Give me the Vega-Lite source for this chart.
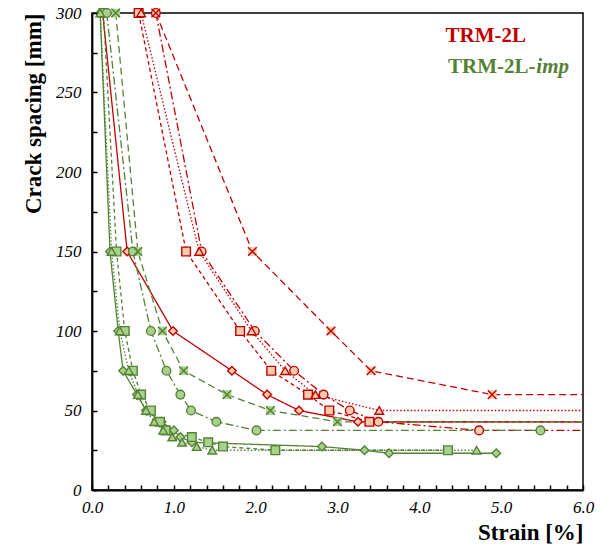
{
  "$schema": "https://vega.github.io/schema/vega-lite/v6.json",
  "width": 491,
  "height": 477,
  "autosize": "none",
  "padding": {"left": 92, "top": 13, "right": 23, "bottom": 61},
  "background": "white",
  "config": {
    "view": {"stroke": "#000", "strokeWidth": 1.5},
    "axis": {
      "domainColor": "#000", "domainWidth": 1.8, "grid": false, "labelFont": "Liberation Serif", "labelFontStyle": "italic", "labelFontSize": 17,
      "labelColor": "#000", "titleFont": "Liberation Serif", "titleFontWeight": "bold", "titleFontSize": 23, "titleColor": "#000",
      "labelOverlap": false, "labelBound": false, "labelFlush": false
    }
  },
  "datasets": {
    "specimens": [
      {"g": "TRM-2L", "s": "diamond", "strain": 0.13, "spacing": 300, "k": "m"},
      {"g": "TRM-2L", "s": "diamond", "strain": 0.43, "spacing": 150, "k": "m"},
      {"g": "TRM-2L", "s": "diamond", "strain": 0.99, "spacing": 100, "k": "m"},
      {"g": "TRM-2L", "s": "diamond", "strain": 1.71, "spacing": 75, "k": "m"},
      {"g": "TRM-2L", "s": "diamond", "strain": 2.14, "spacing": 60, "k": "m"},
      {"g": "TRM-2L", "s": "diamond", "strain": 2.53, "spacing": 50, "k": "m"},
      {"g": "TRM-2L", "s": "diamond", "strain": 3.25, "spacing": 42.9, "k": "m"},
      {"g": "TRM-2L", "s": "diamond", "strain": 6.0, "spacing": 42.9, "k": "ext"},
      {"g": "TRM-2L", "s": "square", "strain": 0.57, "spacing": 300, "k": "m"},
      {"g": "TRM-2L", "s": "square", "strain": 1.15, "spacing": 150, "k": "m"},
      {"g": "TRM-2L", "s": "square", "strain": 1.81, "spacing": 100, "k": "m"},
      {"g": "TRM-2L", "s": "square", "strain": 2.19, "spacing": 75, "k": "m"},
      {"g": "TRM-2L", "s": "square", "strain": 2.64, "spacing": 60, "k": "m"},
      {"g": "TRM-2L", "s": "square", "strain": 2.9, "spacing": 50, "k": "m"},
      {"g": "TRM-2L", "s": "square", "strain": 3.39, "spacing": 42.9, "k": "m"},
      {"g": "TRM-2L", "s": "square", "strain": 6.0, "spacing": 42.9, "k": "ext"},
      {"g": "TRM-2L", "s": "circle", "strain": 0.78, "spacing": 300, "k": "m"},
      {"g": "TRM-2L", "s": "circle", "strain": 1.34, "spacing": 150, "k": "m"},
      {"g": "TRM-2L", "s": "circle", "strain": 1.99, "spacing": 100, "k": "m"},
      {"g": "TRM-2L", "s": "circle", "strain": 2.47, "spacing": 75, "k": "m"},
      {"g": "TRM-2L", "s": "circle", "strain": 2.83, "spacing": 60, "k": "m"},
      {"g": "TRM-2L", "s": "circle", "strain": 3.15, "spacing": 50, "k": "m"},
      {"g": "TRM-2L", "s": "circle", "strain": 3.5, "spacing": 42.9, "k": "m"},
      {"g": "TRM-2L", "s": "circle", "strain": 4.73, "spacing": 37.5, "k": "m"},
      {"g": "TRM-2L", "s": "circle", "strain": 6.0, "spacing": 37.5, "k": "ext"},
      {"g": "TRM-2L", "s": "triangle", "strain": 0.6, "spacing": 300, "k": "m"},
      {"g": "TRM-2L", "s": "triangle", "strain": 1.31, "spacing": 150, "k": "m"},
      {"g": "TRM-2L", "s": "triangle", "strain": 1.95, "spacing": 100, "k": "m"},
      {"g": "TRM-2L", "s": "triangle", "strain": 2.36, "spacing": 75, "k": "m"},
      {"g": "TRM-2L", "s": "triangle", "strain": 2.73, "spacing": 60, "k": "m"},
      {"g": "TRM-2L", "s": "triangle", "strain": 3.51, "spacing": 50, "k": "m"},
      {"g": "TRM-2L", "s": "triangle", "strain": 6.0, "spacing": 50, "k": "ext"},
      {"g": "TRM-2L", "s": "cross", "strain": 0.78, "spacing": 300, "k": "m"},
      {"g": "TRM-2L", "s": "cross", "strain": 1.96, "spacing": 150, "k": "m"},
      {"g": "TRM-2L", "s": "cross", "strain": 2.92, "spacing": 100, "k": "m"},
      {"g": "TRM-2L", "s": "cross", "strain": 3.41, "spacing": 75, "k": "m"},
      {"g": "TRM-2L", "s": "cross", "strain": 4.89, "spacing": 60, "k": "m"},
      {"g": "TRM-2L", "s": "cross", "strain": 6.0, "spacing": 60, "k": "ext"},
      {"g": "TRM-2L-imp", "s": "diamond", "strain": 0.1, "spacing": 300, "k": "m"},
      {"g": "TRM-2L-imp", "s": "diamond", "strain": 0.22, "spacing": 150, "k": "m"},
      {"g": "TRM-2L-imp", "s": "diamond", "strain": 0.32, "spacing": 100, "k": "m"},
      {"g": "TRM-2L-imp", "s": "diamond", "strain": 0.38, "spacing": 75, "k": "m"},
      {"g": "TRM-2L-imp", "s": "diamond", "strain": 0.55, "spacing": 60, "k": "m"},
      {"g": "TRM-2L-imp", "s": "diamond", "strain": 0.66, "spacing": 50, "k": "m"},
      {"g": "TRM-2L-imp", "s": "diamond", "strain": 0.85, "spacing": 42.9, "k": "m"},
      {"g": "TRM-2L-imp", "s": "diamond", "strain": 1.0, "spacing": 37.5, "k": "m"},
      {"g": "TRM-2L-imp", "s": "diamond", "strain": 1.08, "spacing": 33.3, "k": "m"},
      {"g": "TRM-2L-imp", "s": "diamond", "strain": 1.22, "spacing": 30, "k": "m"},
      {"g": "TRM-2L-imp", "s": "diamond", "strain": 2.81, "spacing": 27.3, "k": "m"},
      {"g": "TRM-2L-imp", "s": "diamond", "strain": 3.33, "spacing": 25, "k": "m"},
      {"g": "TRM-2L-imp", "s": "diamond", "strain": 3.63, "spacing": 23.1, "k": "m"},
      {"g": "TRM-2L-imp", "s": "diamond", "strain": 4.94, "spacing": 23.1, "k": "m"},
      {"g": "TRM-2L-imp", "s": "square", "strain": 0.14, "spacing": 300, "k": "m"},
      {"g": "TRM-2L-imp", "s": "square", "strain": 0.3, "spacing": 150, "k": "m"},
      {"g": "TRM-2L-imp", "s": "square", "strain": 0.4, "spacing": 100, "k": "m"},
      {"g": "TRM-2L-imp", "s": "square", "strain": 0.5, "spacing": 75, "k": "m"},
      {"g": "TRM-2L-imp", "s": "square", "strain": 0.6, "spacing": 60, "k": "m"},
      {"g": "TRM-2L-imp", "s": "square", "strain": 0.72, "spacing": 50, "k": "m"},
      {"g": "TRM-2L-imp", "s": "square", "strain": 0.83, "spacing": 42.9, "k": "m"},
      {"g": "TRM-2L-imp", "s": "square", "strain": 0.9, "spacing": 37.5, "k": "m"},
      {"g": "TRM-2L-imp", "s": "square", "strain": 1.22, "spacing": 33.3, "k": "m"},
      {"g": "TRM-2L-imp", "s": "square", "strain": 1.42, "spacing": 30, "k": "m"},
      {"g": "TRM-2L-imp", "s": "square", "strain": 1.6, "spacing": 27.3, "k": "m"},
      {"g": "TRM-2L-imp", "s": "square", "strain": 2.24, "spacing": 25, "k": "m"},
      {"g": "TRM-2L-imp", "s": "square", "strain": 4.35, "spacing": 25, "k": "m"},
      {"g": "TRM-2L-imp", "s": "circle", "strain": 0.18, "spacing": 300, "k": "m"},
      {"g": "TRM-2L-imp", "s": "circle", "strain": 0.5, "spacing": 150, "k": "m"},
      {"g": "TRM-2L-imp", "s": "circle", "strain": 0.72, "spacing": 100, "k": "m"},
      {"g": "TRM-2L-imp", "s": "circle", "strain": 0.91, "spacing": 75, "k": "m"},
      {"g": "TRM-2L-imp", "s": "circle", "strain": 1.08, "spacing": 60, "k": "m"},
      {"g": "TRM-2L-imp", "s": "circle", "strain": 1.21, "spacing": 50, "k": "m"},
      {"g": "TRM-2L-imp", "s": "circle", "strain": 1.52, "spacing": 42.9, "k": "m"},
      {"g": "TRM-2L-imp", "s": "circle", "strain": 2.01, "spacing": 37.5, "k": "m"},
      {"g": "TRM-2L-imp", "s": "circle", "strain": 5.48, "spacing": 37.5, "k": "m"},
      {"g": "TRM-2L-imp", "s": "triangle", "strain": 0.1, "spacing": 300, "k": "m"},
      {"g": "TRM-2L-imp", "s": "triangle", "strain": 0.24, "spacing": 150, "k": "m"},
      {"g": "TRM-2L-imp", "s": "triangle", "strain": 0.34, "spacing": 100, "k": "m"},
      {"g": "TRM-2L-imp", "s": "triangle", "strain": 0.45, "spacing": 75, "k": "m"},
      {"g": "TRM-2L-imp", "s": "triangle", "strain": 0.56, "spacing": 60, "k": "m"},
      {"g": "TRM-2L-imp", "s": "triangle", "strain": 0.66, "spacing": 50, "k": "m"},
      {"g": "TRM-2L-imp", "s": "triangle", "strain": 0.76, "spacing": 42.9, "k": "m"},
      {"g": "TRM-2L-imp", "s": "triangle", "strain": 0.87, "spacing": 37.5, "k": "m"},
      {"g": "TRM-2L-imp", "s": "triangle", "strain": 0.98, "spacing": 33.3, "k": "m"},
      {"g": "TRM-2L-imp", "s": "triangle", "strain": 1.1, "spacing": 30, "k": "m"},
      {"g": "TRM-2L-imp", "s": "triangle", "strain": 1.28, "spacing": 27.3, "k": "m"},
      {"g": "TRM-2L-imp", "s": "triangle", "strain": 1.47, "spacing": 25, "k": "m"},
      {"g": "TRM-2L-imp", "s": "triangle", "strain": 4.7, "spacing": 25, "k": "m"},
      {"g": "TRM-2L-imp", "s": "cross", "strain": 0.29, "spacing": 300, "k": "m"},
      {"g": "TRM-2L-imp", "s": "cross", "strain": 0.56, "spacing": 150, "k": "m"},
      {"g": "TRM-2L-imp", "s": "cross", "strain": 0.86, "spacing": 100, "k": "m"},
      {"g": "TRM-2L-imp", "s": "cross", "strain": 1.12, "spacing": 75, "k": "m"},
      {"g": "TRM-2L-imp", "s": "cross", "strain": 1.65, "spacing": 60, "k": "m"},
      {"g": "TRM-2L-imp", "s": "cross", "strain": 2.18, "spacing": 50, "k": "m"},
      {"g": "TRM-2L-imp", "s": "cross", "strain": 3.0, "spacing": 42.9, "k": "m"},
      {"g": "TRM-2L-imp", "s": "cross", "strain": 6.0, "spacing": 42.9, "k": "ext"}
    ],
    "labels": [
      {"t": "TRM-2L", "part": "red", "strain": 4.32, "spacing": 282},
      {"t": "TRM-2L-", "part": "green", "strain": 5.42, "spacing": 262},
      {"t": "imp", "part": "greenit", "strain": 5.43, "spacing": 262}
    ]
  },
  "encoding": {
    "x": {"field": "strain", "type": "quantitative", "scale": {"domain": [0, 6], "nice": false},
      "axis": {"values": [0,0.2,0.4,0.6,0.8,1,1.2,1.4,1.6,1.8,2,2.2,2.4,2.6,2.8,3,3.2,3.4,3.6,3.8,4,4.2,4.4,4.6,4.8,5,5.2,5.4,5.6,5.8,6],
        "labelExpr": "abs(round(datum.value) - datum.value) < 0.001 ? format(datum.value, '.1f') : ''",
        "title": "Strain [%]", "titleAnchor": "end", "titleAlign": "right", "titlePadding": 6, "labelPadding": 14,
        "labelOverlap": false, "labelFlush": false, "labelFontStyle": "italic",
        "ticks": true, "tickSize": -5, "tickColor": "#000000", "tickWidth": 1.5, "tickOpacity": 1, "tickDash": [], "zindex": 1}},
    "y": {"field": "spacing", "type": "quantitative", "scale": {"domain": [0, 300], "nice": false},
      "axis": {"values": [0,25,50,75,100,125,150,175,200,225,250,275,300],
        "labelExpr": "datum.value % 50 === 0 ? datum.value + '' : ''",
        "title": "Crack spacing [mm]", "titleAnchor": "end", "titlePadding": 10, "labelPadding": 16,
        "labelOverlap": false, "labelFontStyle": "italic",
        "ticks": true, "tickSize": -5, "tickColor": "#000000", "tickWidth": 1.5, "tickOpacity": 1, "tickDash": [], "zindex": 1}}
  },
  "layer": [
    {
      "data": {"name": "specimens"},
      "mark": {"type": "line", "strokeWidth": 1.3, "clip": true},
      "encoding": {
        "stroke": {"field": "g", "type": "nominal", "scale": {"domain": ["TRM-2L", "TRM-2L-imp"], "range": ["#C00000", "#548235"]}, "legend": null},
        "strokeDash": {"field": "s", "type": "nominal", "scale": {"domain": ["diamond", "square", "circle", "triangle", "cross"], "range": [[1, 0], [4, 3], [8, 3, 2, 3], [1.5, 2], [7, 4]]}, "legend": null}
      }
    },
    {
      "data": {"name": "specimens"},
      "transform": [{"filter": "datum.k === 'm' && datum.s === 'cross'"}],
      "mark": {"type": "point", "filled": true, "shape": "square", "size": 75, "opacity": 1, "strokeWidth": 0},
      "encoding": {
        "fill": {"field": "g", "type": "nominal", "scale": {"domain": ["TRM-2L", "TRM-2L-imp"], "range": ["#F8CBAD", "#A9D18E"]}, "legend": null}
      }
    },
    {
      "data": {"name": "specimens"},
      "transform": [{"filter": "datum.k === 'm'"}],
      "mark": {"type": "point", "filled": true, "size": 75, "opacity": 1, "strokeWidth": 1.4},
      "encoding": {
        "shape": {"field": "s", "type": "nominal", "scale": {"domain": ["diamond", "square", "circle", "triangle", "cross"], "range": ["diamond", "square", "circle", "triangle-up", "M-1,-1L1,1M-1,1L1,-1"]}, "legend": null},
        "fill": {"field": "g", "type": "nominal", "scale": {"domain": ["TRM-2L", "TRM-2L-imp"], "range": ["#F8CBAD", "#A9D18E"]}, "legend": null},
        "stroke": {"field": "g", "type": "nominal", "scale": {"domain": ["TRM-2L", "TRM-2L-imp"], "range": ["#C00000", "#548235"]}, "legend": null}
      }
    },
    {
      "data": {"name": "labels"},
      "transform": [{"filter": "datum.part === 'red'"}],
      "mark": {"type": "text", "font": "Liberation Serif", "fontSize": 21, "fontWeight": "bold", "baseline": "alphabetic", "align": "left", "color": "#C00000"},
      "encoding": {"text": {"field": "t"}}
    },
    {
      "data": {"name": "labels"},
      "transform": [{"filter": "datum.part === 'green'"}],
      "mark": {"type": "text", "font": "Liberation Serif", "fontSize": 21, "fontWeight": "bold", "baseline": "alphabetic", "align": "right", "color": "#548235"},
      "encoding": {"text": {"field": "t"}}
    },
    {
      "data": {"name": "labels"},
      "transform": [{"filter": "datum.part === 'greenit'"}],
      "mark": {"type": "text", "font": "Liberation Serif", "fontSize": 21, "fontWeight": "bold", "fontStyle": "italic", "baseline": "alphabetic", "align": "left", "color": "#548235"},
      "encoding": {"text": {"field": "t"}}
    }
  ]
}
